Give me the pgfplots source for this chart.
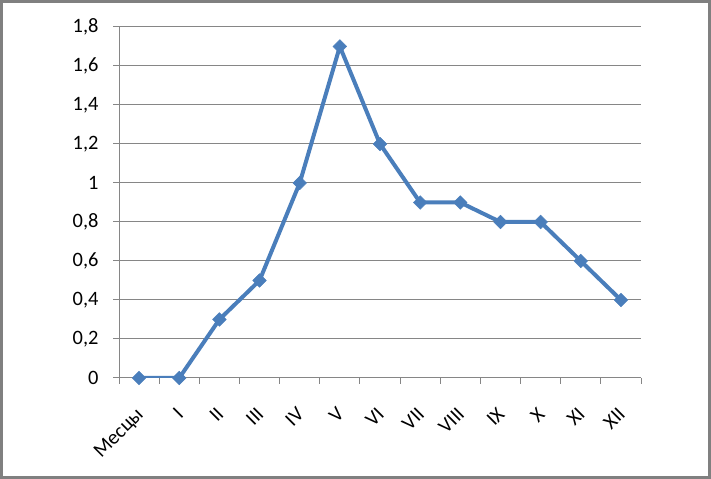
\documentclass[border=0pt]{standalone}
\usepackage{fontspec}
\setmainfont{Carlito}
\usepackage{pgfplots}
\pgfplotsset{compat=1.18}
\definecolor{serie}{HTML}{4A7EBB}
\definecolor{gridc}{HTML}{868686}
\definecolor{framec}{HTML}{808080}
\begin{document}
\begin{tikzpicture}[x=1bp,y=1bp]
\useasboundingbox (0,0) rectangle (711,479);
\draw[line width=2.5bp, color=framec] (1.5,1.5) rectangle (709.5,477.5);
\begin{axis}[
  at={(119bp,101bp)}, anchor=south west,
  scale only axis, width=522bp, height=351bp,
  xmin=-0.5, xmax=12.5, ymin=0, ymax=1.8,
  axis lines*=left,
  axis line style={gridc, line width=1bp, -},
  xtick={-0.5,0.5,...,12.5}, xticklabels={},
  ytick={0,0.2,...,1.8},
  ymajorgrids, major grid style={gridc, line width=1bp},
  tick align=outside, major tick length=6bp,
  tick style={gridc, line width=1bp},
  xtick pos=bottom, ytick pos=left,
  extra x ticks={0,1,...,12},
  extra x tick labels={Месцы,I,II,III,IV,V,VI,VII,VIII,IX,X,XI,XII},
  extra x tick style={major tick length=0pt, grid=none,
    xticklabel style={xshift=-4bp, yshift=-28bp, rotate=45, anchor=north east, inner sep=0pt}},
  /pgf/number format/.cd, use comma, fixed, assume math mode=true,
  /pgfplots/.cd,
  ticklabel style={font=\fontsize{20.5}{24}\selectfont, text=black},
  yticklabel style={xshift=-11bp},
]
\addplot[color=serie, line width=4bp, mark=square*, mark size=4.8bp,
  mark options={fill=serie, line width=0.5bp, rotate=45}]
  coordinates {(0,0) (1,0) (2,0.3) (3,0.5) (4,1.0) (5,1.7) (6,1.2) (7,0.9) (8,0.9) (9,0.8) (10,0.8) (11,0.6) (12,0.4)};
\end{axis}
\end{tikzpicture}
\end{document}
